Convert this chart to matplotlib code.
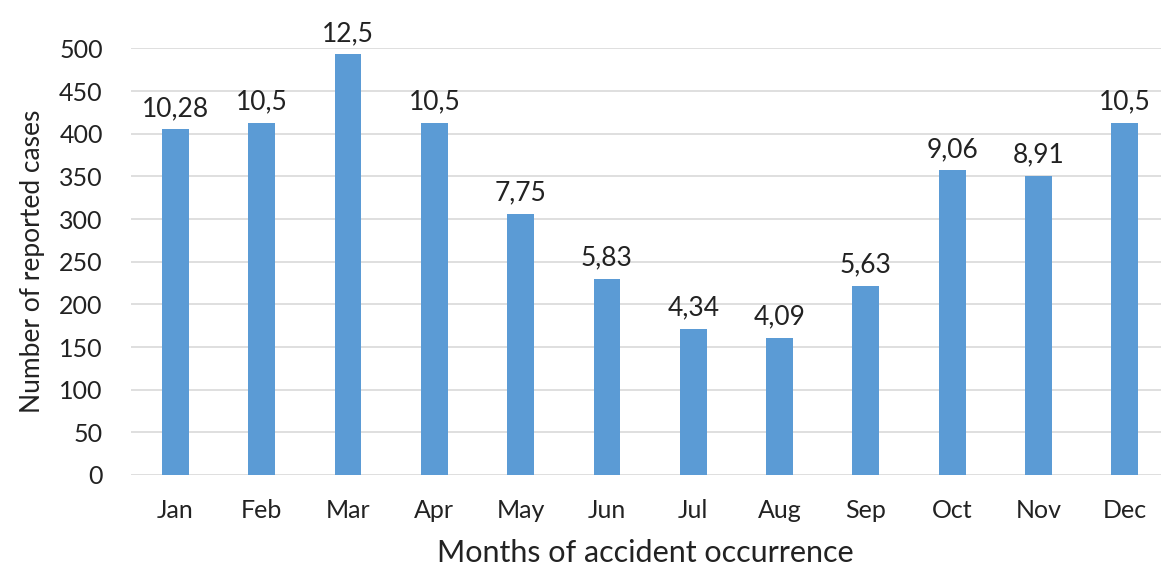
import numpy as np
import matplotlib.pyplot as plt

months = ["Jan", "Feb", "Mar", "Apr", "May", "Jun", "Jul", "Aug", "Sep", "Oct", "Nov", "Dec"]
cases = [405, 413, 493, 413, 306, 230, 171, 161, 222, 357, 351, 413]
percent_labels = ["10,28", "10,5", "12,5", "10,5", "7,75", "5,83", "4,34", "4,09", "5,63", "9,06", "8,91", "10,5"]

plt.rcParams['font.family'] = ['Lato', 'DejaVu Sans']

fig = plt.figure(figsize=(11.61, 5.65), dpi=100)
ax = fig.add_axes([0.1125, 0.1593, 0.8875, 0.755])

x = np.arange(len(months))
bars = ax.bar(x, cases, width=0.31, color="#5b9bd5", zorder=3)

for rect, lab in zip(bars, percent_labels):
    ax.annotate(lab, (rect.get_x() + rect.get_width() / 2, rect.get_height()),
                xytext=(0, 6), textcoords="offset points", ha="center", va="bottom",
                fontsize=19, color="#222222", clip_on=False)

ax.set_xlim(-0.52, 11.42)
ax.set_ylim(0, 500)
ax.set_yticks(np.arange(0, 501, 50))
ax.set_xticks(x)
ax.set_xticklabels(months)
ax.yaxis.grid(True, color="#d9d9d9", linewidth=1.2, zorder=0)
for s in ax.spines.values():
    s.set_visible(False)
ax.tick_params(axis="both", length=0, labelsize=18, colors="#222222")
ax.tick_params(axis="x", pad=17)
ax.tick_params(axis="y", pad=20)

ax.set_xlabel("Months of accident occurrence", fontsize=22, color="#222222")
ax.set_ylabel("Number of reported cases", fontsize=19, color="#222222")
ax.xaxis.set_label_coords(0.5, -0.15)
ax.yaxis.set_label_coords(-0.083, 0.5)

fig.savefig("out.png", dpi=100)
